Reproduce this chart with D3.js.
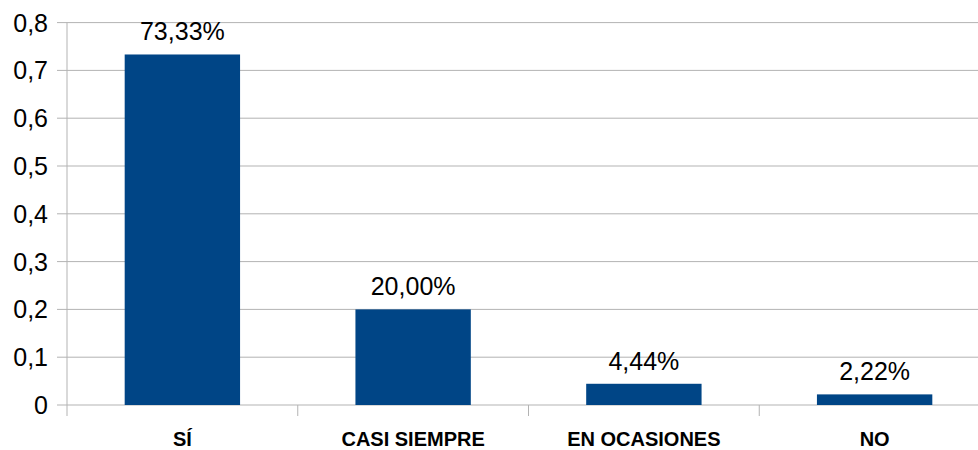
<!DOCTYPE html>
<html>
<head>
<meta charset="utf-8">
<script src="https://cdn.jsdelivr.net/npm/d3@7"></script>
<style>
  body { margin: 0; background: #fff; }
  svg { display: block; font-family: "Liberation Sans", Arial, sans-serif; }
</style>
</head>
<body>
<script>
// respuestas de la encuesta
var categories = ["SÍ", "CASI SIEMPRE", "EN OCASIONES", "NO"];
var values = [0.7333, 0.2000, 0.0444, 0.0222];
var labels = ["73,33%", "20,00%", "4,44%", "2,22%"];
var yTicks = [0, 0.1, 0.2, 0.3, 0.4, 0.5, 0.6, 0.7, 0.8];

var width = 978, height = 450;
var plotLeft = 67, plotRight = 990, plotTop = 22.6, plotBottom = 405;

var svg = d3.select("body").append("svg")
  .attr("width", width).attr("height", height);

var x = d3.scaleBand().domain(categories).range([plotLeft, plotRight])
  .paddingInner(0.5).paddingOuter(0.25);
var y = d3.scaleLinear().domain([0, 0.8]).range([plotBottom, plotTop]);

var fmt = function(d) { return d3.format(".1~f")(d).replace(".", ","); };

// grid lines
svg.selectAll(".grid").data(yTicks).enter().append("line")
  .attr("x1", plotLeft - 10).attr("x2", plotRight)
  .attr("y1", function(d) { return y(d); }).attr("y2", function(d) { return y(d); })
  .attr("stroke", "#b3b3b3").attr("stroke-width", 1);

// y axis line
svg.append("line").attr("x1", plotLeft).attr("x2", plotLeft)
  .attr("y1", plotTop).attr("y2", plotBottom)
  .attr("stroke", "#b3b3b3");

// y tick labels
svg.selectAll(".ylab").data(yTicks).enter().append("text")
  .attr("x", 48).attr("y", function(d) { return y(d); })
  .attr("dy", "0.36em").attr("text-anchor", "end")
  .attr("font-size", 25).attr("fill", "#000")
  .text(fmt);

// x ticks at category boundaries
var step = x.step();
var bounds = d3.range(categories.length + 1).map(function(i) { return plotLeft + i * step; });
svg.selectAll(".xtick").data(bounds).enter().append("line")
  .attr("x1", function(d) { return d; }).attr("x2", function(d) { return d; })
  .attr("y1", plotBottom).attr("y2", plotBottom + 11)
  .attr("stroke", "#b3b3b3");

// bars
svg.selectAll(".bar").data(values).enter().append("rect")
  .attr("x", function(d, i) { return x(categories[i]); })
  .attr("y", function(d) { return y(d); })
  .attr("width", x.bandwidth())
  .attr("height", function(d) { return plotBottom - y(d); })
  .attr("fill", "#004586");

// value labels
svg.selectAll(".val").data(values).enter().append("text")
  .attr("x", function(d, i) { return x(categories[i]) + x.bandwidth() / 2; })
  .attr("y", function(d) { return y(d) - 14; })
  .attr("text-anchor", "middle").attr("font-size", 25).attr("fill", "#000")
  .text(function(d, i) { return labels[i]; });

// category labels
svg.selectAll(".cat").data(categories).enter().append("text")
  .attr("x", function(d) { return x(d) + x.bandwidth() / 2; })
  .attr("y", 446)
  .attr("text-anchor", "middle").attr("font-size", 20).attr("font-weight", "bold")
  .attr("fill", "#000")
  .text(function(d) { return d; });
</script>
</body>
</html>
